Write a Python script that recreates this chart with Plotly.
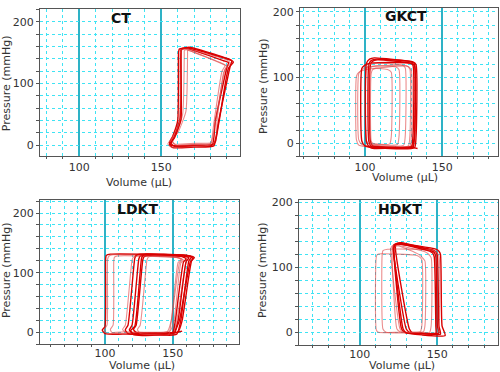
import plotly.graph_objects as go

# ---------------- data ----------------
panel_titles = ["CT", "GKCT", "LDKT", "HDKT"]
x_label = "Volume (µL)"
y_label = "Pressure (mmHg)"

# CT loops: volume / pressure traces
ct_v = [
    [182, 185, 192, 193, 190, 166, 161, 160.5, 160, 157, 155, 156, 170, 182],
    [181, 183, 190, 191, 188, 165, 162, 162, 161.5, 158, 156, 158, 170, 181],
    [180, 182, 187, 189, 186, 165, 164, 164, 163, 159, 157, 159, 170, 180],
    [183, 184, 188, 190, 187, 166, 166, 166, 165, 160, 156, 158, 170, 183],
    [182, 185, 191, 194, 192, 167, 163, 162, 162, 158, 155, 157, 170, 182],
    [180, 183, 189, 192, 190, 166, 162.5, 161.5, 161, 157, 154, 156, 170, 180],
]
ct_p = [
    [2, 40, 128, 137, 140, 158, 156, 150, 40, 15, 4, 0, 0, 2],
    [0, 40, 126, 134, 137, 157, 155, 150, 45, 15, 3, -2, -1, 0],
    [3, 35, 120, 130, 134, 155, 153, 148, 50, 18, 6, 0, 1, 3],
    [5, 40, 118, 128, 132, 154, 152, 146, 55, 20, 8, 2, 3, 5],
    [-1, 35, 125, 135, 139, 159, 157, 152, 42, 12, 1, -4, -3, -1],
    [1, 38, 124, 133, 138, 156, 155, 149, 38, 14, 2, -3, -2, 1],
]
ct_pale = [False, False, True, True, False, True]

# GKCT loops
gk_v = [
    [129, 130, 130, 128, 100, 96, 94.5, 94.5, 96, 100, 129],
    [128, 129, 129, 127, 102, 98, 96, 96, 98, 102, 128],
    [131, 132, 132, 130, 104, 100, 98, 98, 100, 104, 131],
    [132, 133, 133, 131, 108, 104, 102.5, 102.5, 104, 108, 132],
    [130, 131, 131, 129, 108, 105, 103.5, 103.5, 105, 108, 130],
    [125, 126, 126, 124, 106, 103, 101, 101, 103, 106, 125],
    [121, 122, 122, 120, 107, 104, 103, 103, 104, 107, 121],
    [116, 117, 117, 115, 107, 105, 104, 104, 105, 107, 116],
    [134, 131, 132, 132, 130, 106, 103, 101, 101, 103, 106, 131],
]
gk_p = [
    [-5, 10, 110, 117, 112, 108, 102, 5, -3, -5, -5],
    [-4, 10, 113, 118, 116, 112, 106, 5, -2, -4, -4],
    [-6, 10, 118, 122, 122, 119, 114, 3, -4, -6, -6],
    [-7, 10, 120, 124, 128, 126, 120, 3, -5, -7, -7],
    [-5, 10, 119, 122, 127, 125, 119, 3, -4, -5, -5],
    [-3, 10, 115, 119, 122, 120, 114, 4, -2, -3, -3],
    [-2, 10, 112, 116, 118, 116, 110, 4, -1, -2, -2],
    [-1, 10, 108, 112, 114, 112, 106, 4, 0, -1, -1],
    [-8, -6, 10, 121, 124, 130, 128, 122, 2, -6, -8, -6],
]
gk_pale = [True, True, False, False, False, True, True, True, False]

# LDKT loops
ld_v = [
    [157, 152, 155, 163, 165, 162, 104, 101, 100.5, 100, 98, 100, 115, 152],
    [150, 153, 160, 162, 159, 106, 103, 102, 101.5, 99.5, 101, 115, 150],
    [148, 151, 156, 158, 155, 109, 107, 106.5, 106, 104, 105, 115, 148],
    [153, 156, 162, 164, 161, 126, 123, 122, 117, 115, 117, 130, 153],
    [151, 154, 160, 162, 158, 129, 126, 125, 120, 118, 120, 130, 151],
    [150, 152, 158, 160, 157, 132, 129, 128, 123, 121, 123, 135, 150],
    [146, 149, 155, 157, 154, 124, 121, 120, 115, 113, 115, 125, 146],
    [154, 157, 164, 166, 163, 131, 128, 127, 122, 119, 121, 135, 154],
    [147, 149, 154, 156, 153, 135, 132, 131, 126, 124, 126, 135, 147],
]
ld_p = [
    [2, 0, 20, 118, 124, 128, 131, 129, 124, 10, 4, -2, -3, 0],
    [-2, 20, 118, 124, 127, 130, 128, 123, 12, 5, -1, -2, -2],
    [2, 20, 116, 121, 125, 128, 126, 120, 12, 5, 0, 1, 2],
    [-3, 20, 120, 126, 129, 131, 129, 124, 12, 4, -2, -4, -3],
    [-1, 20, 119, 125, 128, 130, 128, 123, 12, 4, -1, -2, -1],
    [0, 20, 118, 123, 127, 129, 127, 122, 12, 5, 0, -1, 0],
    [1, 20, 116, 122, 125, 128, 126, 121, 12, 5, 0, 0, 1],
    [1, 20, 120, 125, 128, 131, 129, 124, 10, 3, -4, -5, 1],
    [-4, 20, 117, 122, 126, 128, 126, 121, 12, 5, -2, -4, -4],
]
ld_pale = [False, True, True, False, False, False, True, False, True]

# HDKT loops
hd_v = [
    [152, 151, 150, 149, 147, 125, 122, 121.5, 130, 132, 140, 152],
    [151, 150, 149, 148, 146, 127, 124, 123, 132, 134, 140, 151],
    [155, 153, 152, 151, 149, 126, 123, 122, 127, 129, 140, 155],
    [150, 151, 151, 149, 146, 118, 115, 114.5, 115, 117, 130, 150],
    [139, 140, 140, 138, 135, 114, 111.5, 110.7, 110.7, 112, 125, 139],
    [145, 146, 146, 144, 142, 124, 121, 120, 126, 128, 135, 145],
    [141, 142, 142, 140, 138, 125, 122, 121, 124, 126, 132, 141],
    [149, 149, 148, 147, 145, 126, 123, 122, 128, 130, 140, 149],
]
hd_p = [
    [-3, 10, 118, 124, 127, 136, 135, 130, 5, 0, -1, -3],
    [-1, 10, 117, 123, 126, 138, 137, 132, 5, -1, -2, -1],
    [-5, 10, 120, 125, 128, 137, 136, 131, 5, 0, -4, -5],
    [0, 10, 118, 124, 127, 128, 126, 120, 5, 0, -1, 0],
    [1, 10, 112, 117, 119, 121, 120, 116, 4, 0, 0, 1],
    [0, 10, 115, 121, 124, 134, 133, 128, 5, 0, -1, 0],
    [1, 10, 110, 116, 120, 133, 132, 127, 5, 1, 0, 1],
    [-2, 10, 116, 122, 125, 136, 135, 130, 5, -1, -2, -2],
]
hd_pale = [False, False, False, True, True, True, True, False]

x_ranges = [[76, 198], [58, 186], [52, 199], [61, 189]]
y_ranges = [[-18, 221], [-20, 206], [-20, 222], [-20, 204]]

# ---------------- layout geometry (pixels -> paper) ----------------
W, H = 500, 372
boxes = [(40, 240, 5, 154), (300, 498, 4, 154), (40, 239, 198, 344), (299, 498, 198, 345)]
title_pos = [(120.7, 14), (405.8, 12.5), (137.5, 207.5), (400, 207.5)]
ylab_pos = [(6, 80), (263, 83), (6, 269), (262, 269)]
xlab_pos = [(139, 180), (405, 175), (142, 365), (402, 365)]
xtick_standoff = [0, 0, -2, -2]


def px(x):
    return x / W


def py(y):
    return 1 - y / H


DARK = "#d90000"
PALE = "rgba(222,70,70,0.62)"
CYAN = "#3fe3f4"
TEAL = "#2eb2c6"
FONT = "DejaVu Sans"

fig = go.Figure()
panels = [(ct_v, ct_p, ct_pale), (gk_v, gk_p, gk_pale), (ld_v, ld_p, ld_pale), (hd_v, hd_p, hd_pale)]

for i, (vs, ps, pales) in enumerate(panels):
    xa = "x" if i == 0 else f"x{i+1}"
    ya = "y" if i == 0 else f"y{i+1}"
    for v, p, pale in zip(vs, ps, pales):
        fig.add_trace(go.Scatter(
            x=v, y=p, mode="lines", xaxis=xa, yaxis=ya,
            line=dict(color=PALE if pale else DARK, width=1.1 if pale else 1.4,
                      shape="spline", smoothing=0.5),
            showlegend=False, hoverinfo="skip"))

layout = dict(width=W, height=H, margin=dict(l=0, r=0, t=0, b=0),
              paper_bgcolor="white", plot_bgcolor="white",
              font=dict(family=FONT, size=11, color="#333"))

for i in range(4):
    x0, x1, y0, y1 = boxes[i]
    kx = "xaxis" if i == 0 else f"xaxis{i+1}"
    ky = "yaxis" if i == 0 else f"yaxis{i+1}"
    ya = "y" if i == 0 else f"y{i+1}"
    xa = "x" if i == 0 else f"x{i+1}"
    layout[kx] = dict(domain=[px(x0), px(x1)], range=x_ranges[i], anchor=ya,
                      dtick=50, tick0=0, showgrid=True, gridcolor=TEAL, gridwidth=1.5,
                      zeroline=False, showline=True, mirror=True, linecolor="#555", linewidth=1.3,
                      ticks="", ticklabelstandoff=xtick_standoff[i],
                      tickfont=dict(family=FONT, size=11, color="#333"),
                      minor=dict(dtick=10, tick0=0, showgrid=True, gridcolor=CYAN, griddash="dot",
                                 gridwidth=1, ticks="outside", ticklen=2, tickcolor="#555"))
    layout[ky] = dict(domain=[py(y1), py(y0)], range=y_ranges[i], anchor=xa,
                      dtick=100, tick0=0, showgrid=True, gridcolor=CYAN, griddash="dot", gridwidth=1,
                      zeroline=False, showline=True, mirror=True, linecolor="#555", linewidth=1.3,
                      ticks="outside", ticklen=3, tickcolor="#555",
                      tickfont=dict(family=FONT, size=11, color="#333"),
                      minor=dict(dtick=20, tick0=0, showgrid=True, gridcolor=CYAN, griddash="dot",
                                 gridwidth=1, ticks="outside", ticklen=3, tickcolor="#555"))

annotations = []
for i in range(4):
    tx, ty = title_pos[i]
    annotations.append(dict(text=f"<b>{panel_titles[i]}</b>", x=px(tx), y=py(ty), xref="paper",
                            yref="paper", showarrow=False, xanchor="center", yanchor="middle",
                            font=dict(family=FONT, size=14, color="#111")))
    lx, ly = ylab_pos[i]
    annotations.append(dict(text=y_label, x=px(lx), y=py(ly), xref="paper", yref="paper",
                            showarrow=False, textangle=-90, xanchor="center", yanchor="middle",
                            font=dict(family=FONT, size=11, color="#333")))
    vx, vy = xlab_pos[i]
    annotations.append(dict(text=x_label, x=px(vx), y=py(vy), xref="paper", yref="paper",
                            showarrow=False, xanchor="center", yanchor="middle",
                            font=dict(family=FONT, size=11, color="#333")))
layout["annotations"] = annotations

fig.update_layout(**layout)
# the browser's default 8px body margin would shift the whole chart; remove it
fig.write_html("out.html", config={"displayModeBar": False},
               post_script="document.body.style.margin='0';")
